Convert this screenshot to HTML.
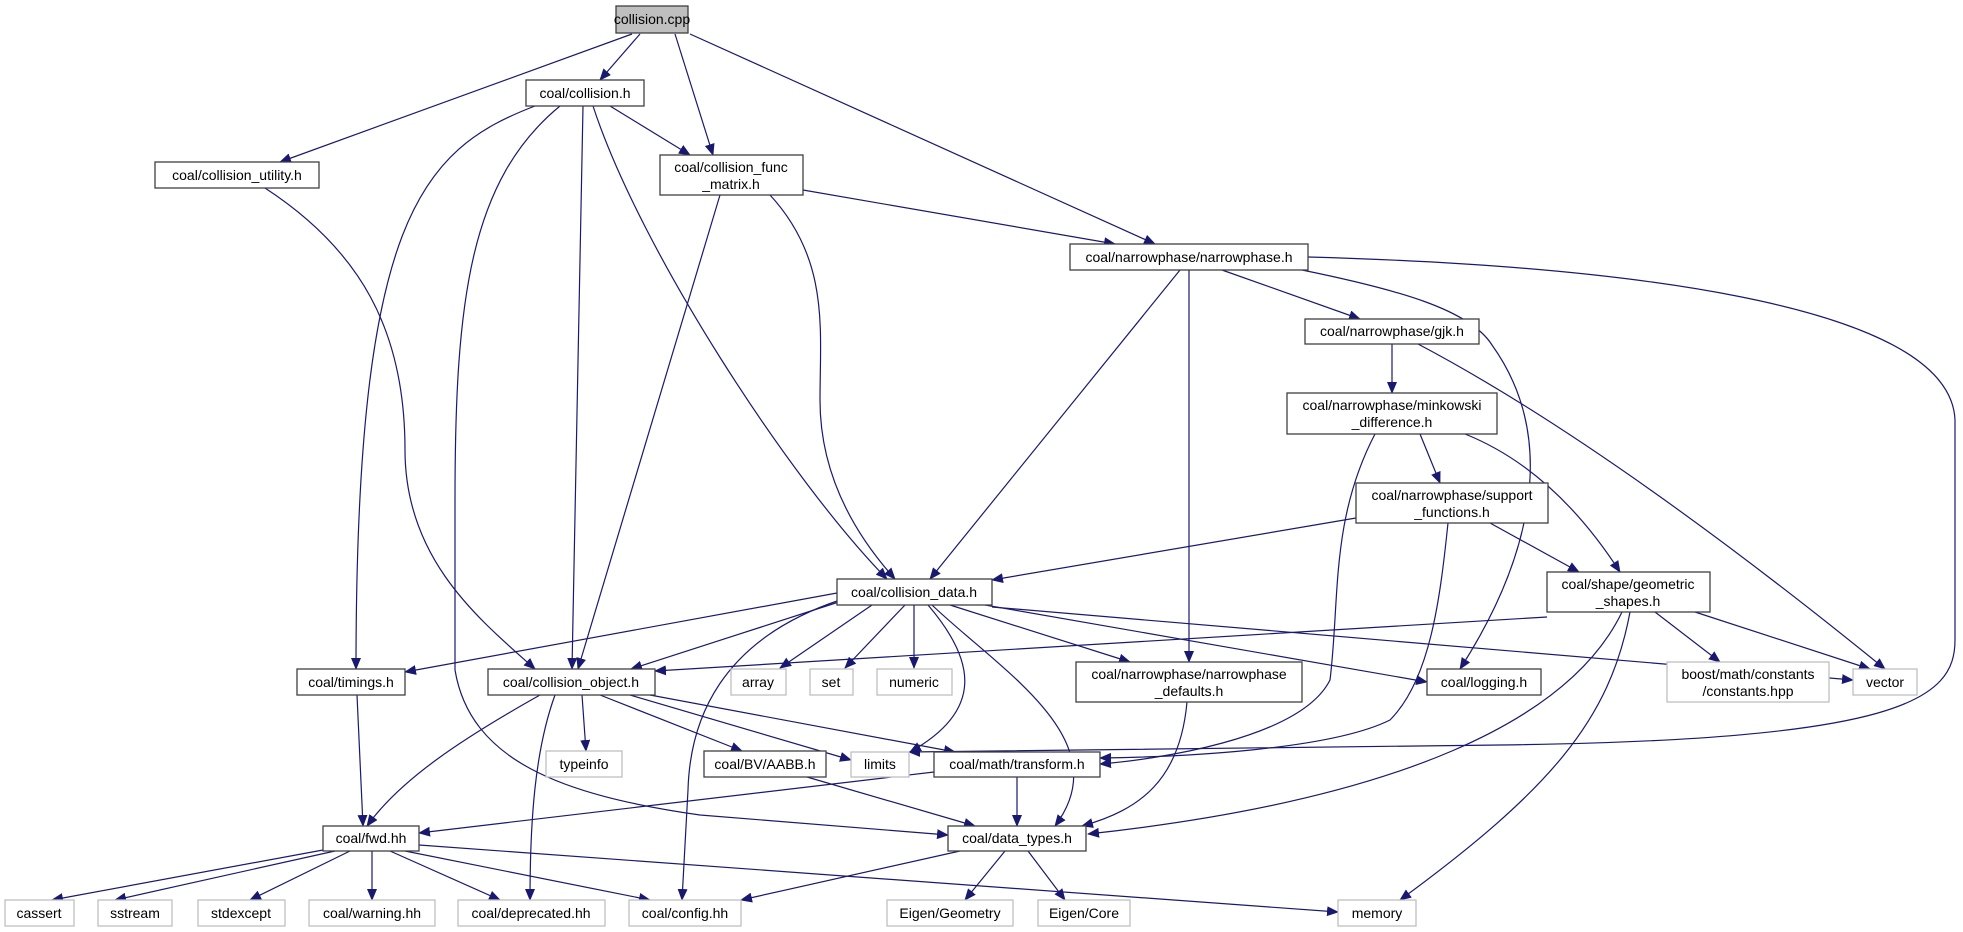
<!DOCTYPE html>
<html><head><meta charset="utf-8"><style>
html,body{margin:0;padding:0;background:#fff;width:1963px;height:932px;overflow:hidden}
svg text{font-family:"Liberation Sans",sans-serif;font-size:14px;fill:#000}
</style></head><body>
<svg width="1963" height="932" viewBox="0 0 1963 932" xmlns="http://www.w3.org/2000/svg">
<defs><marker id="a" viewBox="0 0 12 10" refX="11" refY="5" markerWidth="12" markerHeight="10" markerUnits="userSpaceOnUse" orient="auto"><path d="M0,0 L12,5 L0,10 z" fill="#191970"/></marker></defs>
<g fill="none" stroke="#191970" stroke-width="1.2" marker-end="url(#a)">
<path d="M640,34 L600,80"/>
<path d="M632,34 L280,162"/>
<path d="M675,34 L713,155"/>
<path d="M690,34 L1155,244"/>
<path d="M610,106 L690,155"/>
<path d="M535,106 C420,150 356,220 356,669"/>
<path d="M583,106 L572,669"/>
<path d="M593,106 C640,250 790,480 887,579"/>
<path d="M560,106 C470,180 455,300 455,500 L455,670 C470,760 560,795 700,815 L948,835"/>
<path d="M720,195 L578,669"/>
<path d="M770,195 C830,260 820,330 820,400 C820,480 860,540 895,579"/>
<path d="M803,190 L1115,244"/>
<path d="M265,188 C360,250 405,330 405,450 C405,560 480,620 535,669"/>
<path d="M1180,270 L930,579"/>
<path d="M1189,270 L1189,662"/>
<path d="M1222,270 L1360,319"/>
<path d="M1302,270 C1400,290 1470,310 1492,345 C1560,440 1530,560 1460,669"/>
<path d="M1308,257 C1600,265 1950,300 1955,420 L1955,640 C1955,700 1900,740 1500,745 L909,752"/>
<path d="M1392,344 L1392,393"/>
<path d="M1418,344 C1600,440 1800,600 1885,669"/>
<path d="M1420,434 L1440,483"/>
<path d="M1465,434 C1530,460 1580,510 1620,572"/>
<path d="M1375,434 C1330,520 1340,600 1330,680 C1300,740 1150,760 1100,764"/>
<path d="M1356,518 L992,580"/>
<path d="M1490,523 L1579,572"/>
<path d="M1448,523 C1440,600 1430,680 1390,720 C1330,750 1180,757 1100,758"/>
<path d="M837,593 L405,672"/>
<path d="M845,600 L631,669"/>
<path d="M872,605 L780,668"/>
<path d="M905,605 L845,668"/>
<path d="M914,605 L914,668"/>
<path d="M928,605 C975,660 985,710 910,752"/>
<path d="M932,605 C1000,670 1120,740 1055,826"/>
<path d="M840,600 C720,640 690,720 688,790 L682,900"/>
<path d="M950,605 L1130,662"/>
<path d="M985,605 L1427,682"/>
<path d="M992,607 L1853,680"/>
<path d="M1547,617 L655,671"/>
<path d="M1655,612 L1720,662"/>
<path d="M1695,612 L1870,669"/>
<path d="M1630,612 C1610,720 1550,790 1400,900"/>
<path d="M1622,612 C1570,720 1400,800 1088,834"/>
<path d="M582,695 L586,751"/>
<path d="M600,695 L742,751"/>
<path d="M630,695 L851,760"/>
<path d="M650,695 L955,752"/>
<path d="M540,695 C460,740 400,780 367,826"/>
<path d="M555,695 C535,750 530,820 530,900"/>
<path d="M357,695 L363,826"/>
<path d="M807,777 L975,826"/>
<path d="M1017,777 L1017,826"/>
<path d="M934,772 L419,833"/>
<path d="M1187,702 C1180,780 1140,810 1082,826"/>
<path d="M960,851 L741,900"/>
<path d="M1005,851 L965,900"/>
<path d="M1028,851 L1065,900"/>
<path d="M323,850 L52,900"/>
<path d="M335,851 L115,900"/>
<path d="M350,851 L250,900"/>
<path d="M372,851 L372,900"/>
<path d="M390,851 L500,900"/>
<path d="M405,851 L650,900"/>
<path d="M419,845 L1338,912"/>
</g>
<g stroke-width="1.3">
<rect x="616" y="6" width="72" height="27" fill="#bfbfbf" stroke="#404040"/>
<g fill="#fff" stroke="#404040">
<rect x="526" y="80" width="118" height="26"/>
<rect x="155" y="162" width="164" height="26"/>
<rect x="660" y="155" width="143" height="40"/>
<rect x="1070" y="244" width="238" height="26"/>
<rect x="1305" y="319" width="174" height="25"/>
<rect x="1287" y="393" width="210" height="41"/>
<rect x="1356" y="483" width="192" height="40"/>
<rect x="837" y="579" width="155" height="26"/>
<rect x="1547" y="572" width="163" height="40"/>
<rect x="297" y="669" width="108" height="26"/>
<rect x="488" y="669" width="167" height="26"/>
<rect x="1076" y="662" width="226" height="40"/>
<rect x="1427" y="669" width="114" height="26"/>
<rect x="704" y="751" width="122" height="26"/>
<rect x="934" y="752" width="166" height="25"/>
<rect x="323" y="826" width="96" height="25"/>
<rect x="948" y="826" width="138" height="25"/>
</g>
<g fill="#fff" stroke="#bfbfbf">
<rect x="731" y="669" width="55" height="26"/>
<rect x="810" y="669" width="43" height="26"/>
<rect x="877" y="669" width="75" height="26"/>
<rect x="1667" y="662" width="162" height="40"/>
<rect x="1853" y="669" width="64" height="26"/>
<rect x="546" y="751" width="76" height="26"/>
<rect x="851" y="752" width="58" height="25"/>
<rect x="5" y="900" width="69" height="26"/>
<rect x="98" y="900" width="74" height="26"/>
<rect x="198" y="900" width="87" height="26"/>
<rect x="309" y="900" width="126" height="26"/>
<rect x="458" y="900" width="147" height="26"/>
<rect x="629" y="900" width="112" height="26"/>
<rect x="887" y="900" width="126" height="26"/>
<rect x="1038" y="900" width="92" height="26"/>
<rect x="1338" y="900" width="78" height="26"/>
</g>
</g>
<g text-anchor="middle">
<text x="652" y="24">collision.cpp</text>
<text x="585" y="98">coal/collision.h</text>
<text x="237" y="180">coal/collision_utility.h</text>
<text x="731" y="172">coal/collision_func</text>
<text x="731" y="189">_matrix.h</text>
<text x="1189" y="262">coal/narrowphase/narrowphase.h</text>
<text x="1392" y="336">coal/narrowphase/gjk.h</text>
<text x="1392" y="410">coal/narrowphase/minkowski</text>
<text x="1392" y="427">_difference.h</text>
<text x="1452" y="500">coal/narrowphase/support</text>
<text x="1452" y="517">_functions.h</text>
<text x="914" y="597">coal/collision_data.h</text>
<text x="1628" y="589">coal/shape/geometric</text>
<text x="1628" y="606">_shapes.h</text>
<text x="351" y="687">coal/timings.h</text>
<text x="571" y="687">coal/collision_object.h</text>
<text x="758" y="687">array</text>
<text x="831" y="687">set</text>
<text x="914" y="687">numeric</text>
<text x="1189" y="679">coal/narrowphase/narrowphase</text>
<text x="1189" y="696">_defaults.h</text>
<text x="1484" y="687">coal/logging.h</text>
<text x="1748" y="679">boost/math/constants</text>
<text x="1748" y="696">/constants.hpp</text>
<text x="1885" y="687">vector</text>
<text x="584" y="769">typeinfo</text>
<text x="765" y="769">coal/BV/AABB.h</text>
<text x="880" y="769">limits</text>
<text x="1017" y="769">coal/math/transform.h</text>
<text x="371" y="843">coal/fwd.hh</text>
<text x="1017" y="843">coal/data_types.h</text>
<text x="39" y="918">cassert</text>
<text x="135" y="918">sstream</text>
<text x="241" y="918">stdexcept</text>
<text x="372" y="918">coal/warning.hh</text>
<text x="531" y="918">coal/deprecated.hh</text>
<text x="685" y="918">coal/config.hh</text>
<text x="950" y="918">Eigen/Geometry</text>
<text x="1084" y="918">Eigen/Core</text>
<text x="1377" y="918">memory</text>
</g>
</svg>
</body></html>
